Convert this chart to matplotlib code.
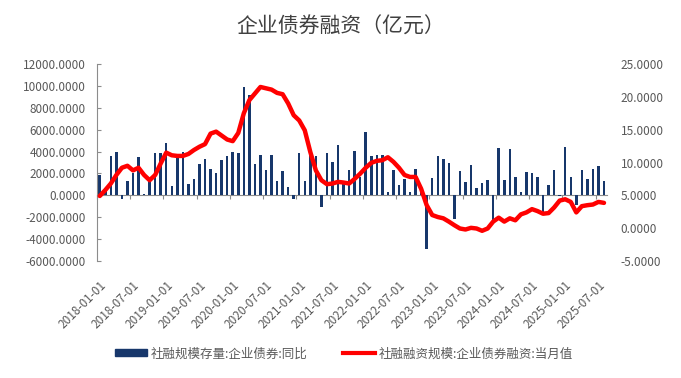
import numpy as np
import pandas as pd
import matplotlib
matplotlib.use('Agg')
import matplotlib.pyplot as plt
from matplotlib.patches import Patch
from matplotlib.lines import Line2D

plt.rcParams['font.family'] = ['Noto Sans CJK SC', 'DejaVu Sans']

#%% data
months = pd.date_range('2018-01-01', periods=92, freq='MS')

# 企业债券 (亿元) - bars, left axis
bar_vals = [1900, 700, 3570, 4000, -300, 1300, 2000, 3500, 100, 1400, 3900, 3900,
            4800, 850, 3500, 4000, 1000, 1460, 2900, 3350, 2400, 2000, 3260, 3570,
            3960, 3870, 9900, 9200, 2840, 3660, 2320, 3660, 1300, 2260, 780, -300,
            3870, 1300, 3700, 3570, -1070, 3870, 3050, 4600, 1000, 2280, 4020, 1700,
            5800, 3570, 3680, 3650, 300, 2320, 920, 1500, 300, 2420, 400, -4920,
            1550, 3630, 3350, 2930, -2130, 2260, 1220, 2740, 640, 1130, 1370, -2650,
            4300, 1370, 4200, 1680, 270, 2130, 2040, 1680, -1500, 900, 2300, -100,
            4450, 1680, -900, 2300, 1460, 2400, 2680, 1340]

# red line, right axis
line_vals = [4.9, 5.8, 6.8, 8.1, 9.2, 9.5, 8.8, 9.2, 8.1, 7.3, 8.1, 9.85,
             11.5, 11.1, 11.0, 11.0, 11.3, 11.9, 12.4, 12.8, 14.4, 14.7, 14.1, 13.5,
             13.25, 14.5, 17.5, 19.5, 20.5, 21.5, 21.3, 21.1, 20.6, 20.4, 19.0, 17.2,
             16.4, 14.9, 11.6, 8.8, 7.3, 6.7, 6.8, 7.05, 6.95, 6.8, 7.5, 8.3,
             9.2, 9.95, 10.25, 10.35, 10.8, 10.1, 9.2, 8.1, 7.8, 7.8, 6.0, 3.5,
             2.0, 1.7, 1.5, 1.0, 0.45, -0.05, -0.2, 0.05, -0.05, -0.4, -0.05, 1.0,
             1.6, 1.0, 1.5, 1.2, 2.1, 2.4, 2.9, 2.6, 2.2, 2.3, 3.15, 4.2,
             4.4, 4.0, 2.4, 3.35, 3.5, 3.6, 4.0, 3.85]

title = '企业债券融资（亿元）'
bar_name = '社融规模存量:企业债券:同比'
line_name = '社融融资规模:企业债券融资:当月值'

bar_color = '#17376B'
grey = '#595959'

#%% plot
x = np.arange(len(months))

fig = plt.figure(figsize=(6.81, 3.78), dpi=100)
ax = fig.add_axes([0.1424, 0.3095, 0.7486, 0.5212])
ax2 = ax.twinx()

ax.bar(x, bar_vals, width=0.45, color=bar_color, zorder=2)
ax2.plot(x, line_vals, color='#FF0000', lw=3.2, solid_capstyle='round',
         solid_joinstyle='round', zorder=3)

ax.set_xlim(-0.5, len(months) - 0.5)
ax.set_ylim(-6000, 12000)
ax.set_yticks(np.arange(-6000, 12001, 2000))
ax.set_yticklabels(['%.4f' % v for v in np.arange(-6000, 12001, 2000)])
ax2.set_ylim(-5, 25)
ax2.set_yticks(np.arange(-5, 26, 5))
ax2.set_yticklabels(['%.4f' % v for v in np.arange(-5, 26, 5)])

for s in ['top', 'right']:
    ax.spines[s].set_visible(False)
for s in ['top', 'right', 'left', 'bottom']:
    ax2.spines[s].set_visible(False)
ax.spines['left'].set_color('#8c8c8c')
ax.spines['bottom'].set_position(('data', 0))
ax.spines['bottom'].set_color('#8c8c8c')
ax.spines['bottom'].set_zorder(1)

# ticks on the zero line, between months
idx6 = x[::6]
ax.set_xticks(idx6 - 0.5)
ax.tick_params(axis='x', direction='out', length=3, color='#8c8c8c',
               labelbottom=False)
ax.tick_params(axis='y', direction='in', length=3, color='#8c8c8c',
               labelsize=8.5, labelcolor=grey, pad=8)
ax2.tick_params(axis='y', length=0, labelsize=8.5, labelcolor=grey, pad=10)

# date labels below the plot area
sec = ax.secondary_xaxis('bottom')
sec.set_xticks(idx6)
sec.set_xticklabels([d.strftime('%Y-%m-%d') for d in months[::6]],
                    rotation=45, ha='right', rotation_mode='anchor')
sec.spines['bottom'].set_visible(False)
sec.tick_params(length=0, labelsize=8.5, labelcolor=grey, pad=13)

fig.text(0.5, 0.93, title, ha='center', va='center', fontsize=15, color='#404040')

handles = [Patch(facecolor=bar_color, edgecolor=bar_color),
           Line2D([0], [0], color='#FF0000', lw=3)]
leg = fig.legend(handles, [bar_name, line_name], loc='center',
                 bbox_to_anchor=(0.505, 0.064), ncol=2, frameon=False,
                 fontsize=9, handlelength=2.6, handleheight=0.5,
                 handletextpad=0.3, columnspacing=2.8)
for t in leg.get_texts():
    t.set_color(grey)

fig.savefig('out.png', dpi=100)
